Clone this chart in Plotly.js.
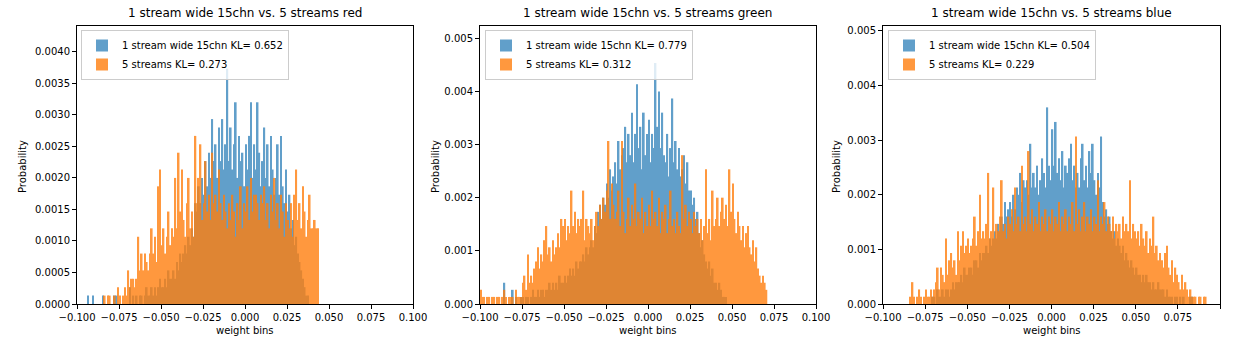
<!DOCTYPE html>
<html>
<head>
<meta charset="utf-8">
<script src="https://cdn.plot.ly/plotly-3.0.1.min.js"></script>
<style>
  body { margin: 0; background: #fff; }
  #myDiv { width: 1234px; height: 340px; }
</style>
</head>
<body>
<div id="myDiv"></div>
<script>
// histogram counts per 0.001 wide bin, probability = count / N
var binW = 0.001;
var N = 7500;

var titles = ['1 stream wide 15chn vs. 5 streams red',
              '1 stream wide 15chn vs. 5 streams green',
              '1 stream wide 15chn vs. 5 streams blue'];
var klWide = ['0.652', '0.779', '0.504'];
var klFive = ['0.273', '0.312', '0.229'];

// red channel
var redWideStart = -0.0935;
var redWide = [
  1,0,0,1,0,0,0,0,0,1, 0,0,0,0,0,0,1,1,0,0, 0,0,0,0,0,2,0,1,0,1,
  0,1,1,0,1,2,1,1,2,1, 2,1,2,3,2,2,3,2,4,3, 3,4,3,5,4,6,5,6,7,6,
  8,7,9,8,12,11,14,12,15,13, 17,14,18,15,22,17,19,15,21,17,
  22,16,19,28,17,21,16,19,24,15, 20,17,18,14,19,16,20,24,15,19,
  16,24,18,14,17,21,15,19,14,20, 16,13,15,19,13,20,14,12,16,11,
  13,9,10,7,8,6,5,4,3,2, 1,1];
var redFiveStart = -0.0835;
var redFive = [
  1,0,1,1,0,0,1,0,2,1, 0,1,2,1,4,2,3,3,2,3, 8,4,6,4,6,5,4,6,9,6,
  8,5,14,16,7,9,6,8,11,7, 9,8,15,9,18,11,16,10,8,12, 15,9,11,8,20,12,15,19,10,12,
  17,11,13,10,18,12,13,11,16,12, 10,13,11,9,12,10,13,11,8,12,
  10,14,9,12,11,14,10,15,11,13, 13,12,10,13,12,14,10,12,9,13,
  11,15,10,12,9,13,11,8,12,10, 9,12,8,13,16,10,12,9,14,11,
  8,10,13,9,9,10,9,9];

// green channel
var greenWideStart = -0.0855;
var greenWide = [
  3,0,0,0,0,2,0,1,0,0,1,
  1,0,1,1,0, 1,2,1,1,2, 1,2,2,1,2, 2,3,2,3,2, 3,2,4,3,3,
  4,3,4,5,4, 5,4,6,5,6, 6,7,6,8,7, 8,9,8,11,10, 13,14,12,15,14,
  17,15,19,16,18, 20,17,23,19,21, 22,25,20,24,21, 27,20,24,31,22, 25,19,27,21,24,
  26,20,24,22,34, 25,30,22,27,21, 20,24,18,22,29, 20,23,19,22,18, 19,21,17,20,16,
  16,14,15,12,13, 10,8,9,7,6, 5,6,4,5,3, 3,2,3,2,1, 1,1];
var greenFiveStart = -0.0995;
var greenFive = [
  2,1,1,0,1,1,0,1,1,0,1,1,0,1,2,1,0,1,1,1,0,2,1,1,1,
  3,4,2,7,3, 4,3,5,6,8, 5,7,6,9,11, 7,8,6,9,7, 8,10,8,12,11,
  12,9,11,10,16, 11,13,10,12,11, 12,16,9,12,11, 10,12,9,11,13, 11,14,12,15,13,
  16,23,12,17,14, 12,13,16,11,23, 13,10,12,15,11, 14,12,17,11,13, 12,15,10,13,11,
  14,11,16,12,13, 11,15,10,13,12, 14,10,12,16,11, 12,10,13,11,10, 21,12,14,11,13,
  12,10,13,11,12, 10,12,9,11,19, 10,12,9,16,11, 12,15,11,13,15, 12,14,11,19,13,
  17,12,10,13,11, 9,11,8,10,11, 8,7,9,6,8, 5,4,3,4,3, 2];

// blue channel
var blueWideStart = -0.0705;
var blueWide = [
  1,1,0,2,1,1,
  2,1,2,2,1, 2,3,2,3,3, 3,4,3,5,4, 4,5,5,4,6, 6,5,7,6,7,
  7,8,7,9,8, 9,10,9,11,10, 12,11,14,12,13, 14,12,15,13,16, 15,18,14,17,16,
  17,15,22,16,18, 16,19,15,17,20, 18,16,27,19,17,
  24,19,25,18,20, 17,21,16,19,18, 20,22,17,19,16, 18,16,20,22,17, 19,16,21,18,22,
  17,15,18,16,23, 14,12,13,11,12, 10,9,10,8,9, 8,7,8,6,7, 6,5,6,5,4,
  5,4,4,3,4, 3,4,3,3,2, 3,2,2,3,2, 2,2,1,2,1, 1,1,0,1,1, 0,1,0,1,0,
  0,0,1,1];
var blueFiveStart = -0.0835;
var blueFive = [
  1,3,1,0,1,2,1,0,1,
  2,1,1,2,1, 2,3,5,2,5, 4,3,9,4,6, 7,5,6,4,10, 6,8,10,7,8,
  9,7,8,9,12, 8,10,15,9,10, 9,11,18,9,10, 16,9,11,10,12, 17,10,11,9,12,
  11,13,10,16,11, 12,10,19,11,12, 10,21,11,13,10, 12,11,14,10,12, 11,13,10,12,11,
  13,10,12,11,14, 10,12,11,13,10, 12,11,14,10,23, 11,13,10,12,14, 10,12,11,13,10,
  12,11,17,10,12, 11,14,10,12,11, 10,12,9,11,10, 11,9,12,10,11, 10,17,9,11,10,
  9,10,8,11,9, 8,10,7,9,8, 12,7,8,6,7, 6,5,7,8,5, 4,6,3,5,4,
  3,2,4,2,3, 2,1,2,1,1, 1,0,1,1,0, 1,1];

var wideSets = [[redWideStart, redWide], [greenWideStart, greenWide], [blueWideStart, blueWide]];
var fiveSets = [[redFiveStart, redFive], [greenFiveStart, greenFive], [blueFiveStart, blueFive]];

function centers(start, n) {
  var xs = [];
  for (var i = 0; i < n; i++) xs.push(start + i * binW);
  return xs;
}
function probs(counts) {
  return counts.map(function (c) { return c / N; });
}

var font = 'DejaVu Sans, sans-serif';
var data = [];
var legNames = ['legend', 'legend2', 'legend3'];
for (var k = 0; k < 3; k++) {
  var sfx = k === 0 ? '' : String(k + 1);
  data.push({
    type: 'bar',
    x: centers(wideSets[k][0], wideSets[k][1].length),
    y: probs(wideSets[k][1]),
    width: binW,
    xaxis: 'x' + sfx, yaxis: 'y' + sfx,
    name: '1 stream wide 15chn KL= ' + klWide[k],
    legend: legNames[k],
    marker: {color: '#1f77b4', line: {width: 0}},
    opacity: 0.7,
    hoverinfo: 'x+y'
  });
  data.push({
    type: 'bar',
    x: centers(fiveSets[k][0], fiveSets[k][1].length),
    y: probs(fiveSets[k][1]),
    width: binW,
    xaxis: 'x' + sfx, yaxis: 'y' + sfx,
    name: '5 streams KL= ' + klFive[k],
    legend: legNames[k],
    marker: {color: '#ff7f0e', line: {width: 0}},
    opacity: 0.8,
    hoverinfo: 'x+y'
  });
}

var figW = 1234, marT = 26, marB = 36, plotH = 340 - marT - marB;
var doms = [[77, 413], [480, 816], [883, 1220]];
var yRanges = [[0, 0.00441], [0, 0.00523], [0, 0.00509]];
var yDticks = [0.0005, 0.001, 0.001];
var yFormats = ['.4f', '.3f', '.3f'];
var ylabX = [22, 435, 836];
var legX = [81, 485, 888];

var layout = {
  width: figW, height: 340,
  margin: {l: 0, r: 0, t: marT, b: marB},
  paper_bgcolor: '#fff', plot_bgcolor: '#fff',
  barmode: 'overlay',
  font: {family: font, size: 10, color: '#000'},
  annotations: []
};

for (var k = 0; k < 3; k++) {
  var sfx = k === 0 ? '' : String(k + 1);
  var common = {
    showgrid: false, zeroline: false,
    showline: true, mirror: true, linecolor: '#000', linewidth: 1,
    ticks: 'outside', ticklen: 4, tickcolor: '#000', tickwidth: 1,
    tickfont: {family: font, size: 10, color: '#000'}
  };
  layout['xaxis' + sfx] = Object.assign({}, common, {
    domain: [doms[k][0] / figW, doms[k][1] / figW],
    anchor: 'y' + sfx,
    range: [-0.1, 0.1], tick0: -0.1, dtick: 0.025, tickformat: '.3f'
  });
  layout['yaxis' + sfx] = Object.assign({}, common, {
    domain: [0, 1],
    anchor: 'x' + sfx,
    range: yRanges[k], tick0: 0, dtick: yDticks[k], tickformat: yFormats[k]
  });
  layout[legNames[k]] = {
    x: legX[k] / figW, y: 1 - 4 / plotH, xanchor: 'left', yanchor: 'top',
    xref: 'paper', yref: 'paper',
    bgcolor: 'rgba(255,255,255,0.8)', bordercolor: '#cccccc', borderwidth: 1,
    font: {family: font, size: 10, color: '#000'},
    traceorder: 'normal'
  };
  var cx = (doms[k][0] + doms[k][1]) / 2 / figW;
  layout.annotations.push({
    text: titles[k], xref: 'paper', yref: 'paper',
    x: cx, y: 1 + 13 / plotH, xanchor: 'center', yanchor: 'middle',
    showarrow: false, font: {family: font, size: 12, color: '#000'}
  });
  layout.annotations.push({
    text: 'weight bins', xref: 'paper', yref: 'paper',
    x: cx, y: -26 / plotH, xanchor: 'center', yanchor: 'middle',
    showarrow: false, font: {family: font, size: 10, color: '#000'}
  });
  layout.annotations.push({
    text: 'Probability', xref: 'paper', yref: 'paper', textangle: -90,
    x: ylabX[k] / figW, y: (304 - 167) / plotH, xanchor: 'center', yanchor: 'middle',
    showarrow: false, font: {family: font, size: 10, color: '#000'}
  });
}

Plotly.newPlot('myDiv', data, layout, {displayModeBar: false, displaylogo: false});
</script>
</body>
</html>
